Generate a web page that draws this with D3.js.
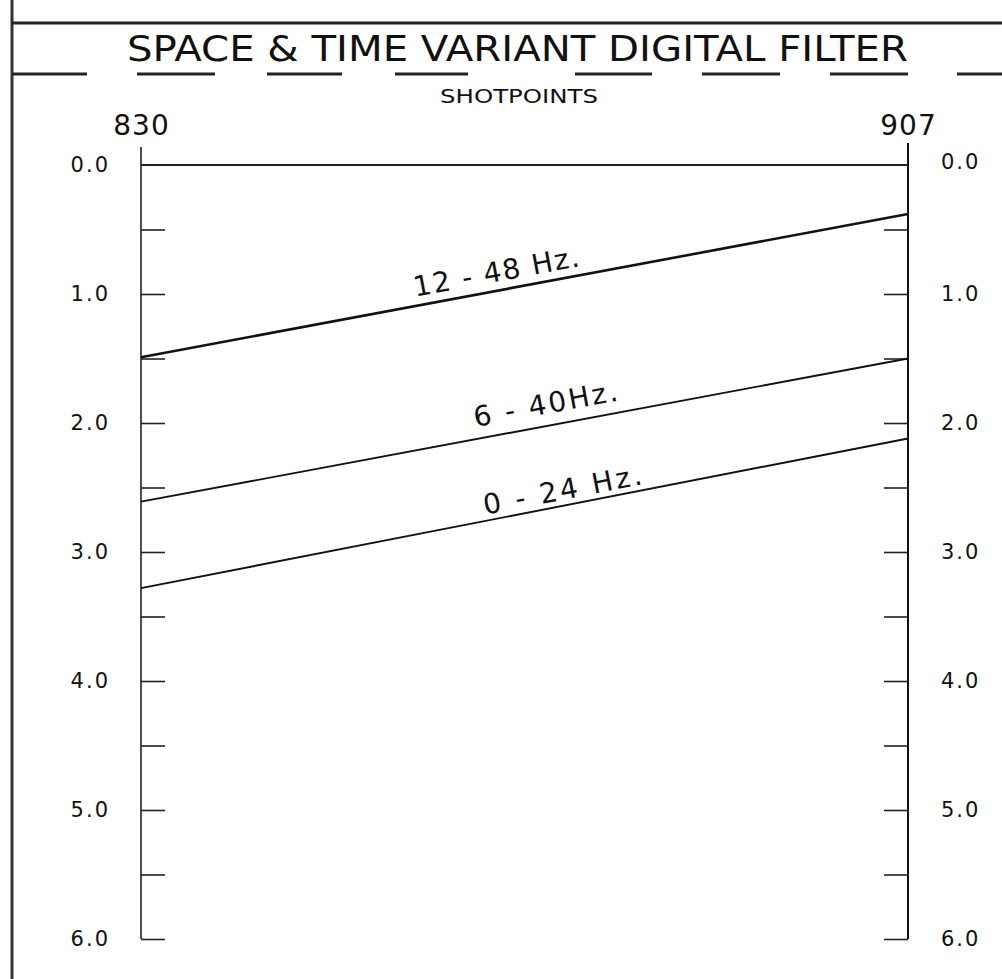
<!DOCTYPE html>
<html>
<head>
<meta charset="utf-8">
<script src="https://cdn.jsdelivr.net/npm/d3@7"></script>
<style>
  body { margin: 0; background: #fff; }
  svg { display: block; }
  text { font-family: 'DejaVu Sans', sans-serif; fill: #111; }
</style>
</head>
<body>
<svg id="chart" width="1002" height="979"></svg>
<script>
// values
const shotpoints = [830, 907];
const timeTicks = [0, 0.5, 1, 1.5, 2, 2.5, 3, 3.5, 4, 4.5, 5, 5.5, 6];
const timeLabels = ['0.0', '1.0', '2.0', '3.0', '4.0', '5.0', '6.0'];
const filterBands = ['12 - 48 Hz.', '6 - 40Hz.', '0 - 24 Hz.'];
const timeAt830 = [1.49, 2.61, 3.28];
const timeAt907 = [0.38, 1.50, 2.12];
const labelShotpoint = [866, 871, 872.6];

// label look (not data)
const labelLift = [9, 12, 6];
const labelWidth = [168, 146, 161];

let w = 1002,
  h = 979;

let svg = d3.select('#chart');

// frame + title
svg.append('line')
  .attr('x1', 12).attr('x2', 12)
  .attr('y1', 0).attr('y2', h)
  .attr('stroke', '#333').attr('stroke-width', 3);

svg.append('line')
  .attr('x1', 12).attr('x2', w)
  .attr('y1', 23).attr('y2', 23)
  .attr('stroke', '#222').attr('stroke-width', 3);

svg.append('text')
  .attr('x', 127).attr('y', 61)
  .attr('textLength', 781)
  .attr('lengthAdjust', 'spacingAndGlyphs')
  .style('font-size', '35px')
  .text('SPACE & TIME VARIANT DIGITAL FILTER');

// broken underline below the title
svg.append('line')
  .attr('x1', 12).attr('x2', w)
  .attr('y1', 74).attr('y2', 74)
  .attr('stroke', '#222').attr('stroke-width', 3)
  .attr('stroke-dasharray', '75,50,78,52,75,53,73,107,77,50,78,50,78,49,45');

svg.append('text')
  .attr('x', 440).attr('y', 103)
  .attr('textLength', 158)
  .attr('lengthAdjust', 'spacingAndGlyphs')
  .style('font-size', '20px')
  .text('SHOTPOINTS');

// scales
let x = d3.scaleLinear()
  .domain(d3.extent(shotpoints))
  .range([141, 908]);

let y = d3.scaleLinear()
  .domain([0, 6])
  .range([165, 939]);

// shotpoint numbers on top
let topAxis = svg.append('g')
  .attr('transform', `translate(0,${135})`)
  .call(d3.axisTop(x).tickValues(shotpoints).tickSize(0).tickPadding(0).tickFormat(d3.format('d')));
topAxis.select('.domain').remove();
topAxis.selectAll('text')
  .style('font-size', '28px')
  .style('letter-spacing', '1px')
  .style('font-family', "'DejaVu Sans', sans-serif")
  .attr('fill', '#111');

// side axes
function fmt(d) {
  return Number.isInteger(d) ? timeLabels[d] : '';
}

let leftAxis = svg.append('g')
  .attr('transform', `translate(${x(830)},0)`)
  .call(d3.axisLeft(y).tickValues(timeTicks.slice(1)).tickSize(-24).tickPadding(31).tickFormat(fmt));

let rightAxis = svg.append('g')
  .attr('transform', `translate(${x(907)},0)`)
  .call(d3.axisRight(y).tickValues(timeTicks.slice(1)).tickSize(-24).tickPadding(33).tickFormat(fmt));

// 0.0 label (no tick there, the top line takes it)
leftAxis.append('text').attr('x', -31).attr('y', y(0)).attr('dy', '0.32em')
  .attr('text-anchor', 'end').text(timeLabels[0]);
rightAxis.append('text').attr('x', 33).attr('y', y(0) - 3).attr('dy', '0.32em')
  .attr('text-anchor', 'start').text(timeLabels[0]);

for (let g of [leftAxis, rightAxis]) {
  g.select('.domain').remove();
  g.selectAll('.tick line').attr('stroke', '#222').attr('stroke-width', 1.6);
  g.selectAll('text')
    .style('font-size', '21px')
    .style('letter-spacing', '2px')
    .style('font-family', "'DejaVu Sans', sans-serif")
    .attr('fill', '#111');
}

// axis verticals reach a bit above 0.0
svg.append('line')
  .attr('x1', x(830)).attr('x2', x(830))
  .attr('y1', y(-0.14)).attr('y2', y(6))
  .attr('stroke', '#222').attr('stroke-width', 1.6);
svg.append('line')
  .attr('x1', x(907)).attr('x2', x(907))
  .attr('y1', y(-0.17)).attr('y2', y(6))
  .attr('stroke', '#111').attr('stroke-width', 2);

// 0.0 line across
svg.append('line')
  .attr('x1', x(830)).attr('x2', x(907))
  .attr('y1', y(0)).attr('y2', y(0))
  .attr('stroke', '#222').attr('stroke-width', 1.8);

// filter boundaries
let bands = filterBands.map((name, i) => ({
  name: name,
  t0: timeAt830[i],
  t1: timeAt907[i],
  at: labelShotpoint[i],
  lift: labelLift[i],
  len: labelWidth[i]
}));

let line = d3.line()
  .x(d => x(d[0]))
  .y(d => y(d[1]));

svg.selectAll('path.band')
  .data(bands)
  .enter()
  .append('path')
  .attr('class', 'band')
  .attr('d', d => line([[830, d.t0], [907, d.t1]]))
  .attr('fill', 'none')
  .attr('stroke', '#111')
  .attr('stroke-width', (d, i) => i === 0 ? 2.6 : 1.9);

svg.selectAll('text.band')
  .data(bands)
  .enter()
  .append('text')
  .attr('class', 'band')
  .attr('transform', d => {
    let ang = Math.atan2(y(d.t1) - y(d.t0), x(907) - x(830)) * 180 / Math.PI;
    let t = d.t0 + (d.t1 - d.t0) * (d.at - 830) / (907 - 830);
    return `translate(${x(d.at)},${y(t)}) rotate(${ang}) translate(0,${-d.lift})`;
  })
  .attr('x', d => -d.len / 2)
  .attr('textLength', d => d.len)
  .attr('lengthAdjust', 'spacing')
  .style('font-size', '28px')
  .text(d => d.name);
</script>
</body>
</html>
